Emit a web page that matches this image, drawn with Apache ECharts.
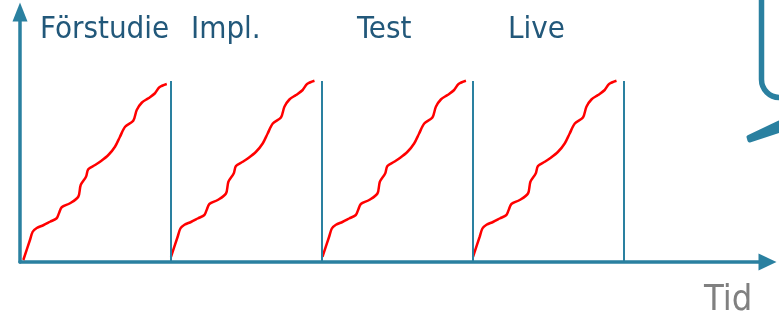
<!DOCTYPE html>
<html>
<head>
<meta charset="utf-8">
<script src="https://cdn.jsdelivr.net/npm/echarts@6/dist/echarts.min.js"></script>
<style>html,body{margin:0;padding:0;background:#fff}#c{width:779px;height:318px}</style>
</head>
<body>
<div id="c"></div>
<script>
// Phase names and their divider positions (phase units along time axis)
var phaseNames = ['Förstudie', 'Impl.', 'Test', 'Live'];
var dividerX = [1, 2, 3, 4];
var dividerTop = 72.4;
// Start point of each phase's curve [x, y]
var curveStartX = [0.022, 1.0, 2.003, 3.0];
var curveStartY = [0.8, 2.1, 2.1, 2.1];
// Shape of the progress curve, relative to its start (x in phase units, y in axis units)
var shapeDX = [0, 0.044, 0.062, 0.089, 0.132, 0.177, 0.221, 0.236, 0.254, 0.309, 0.364, 0.380, 0.415, 0.430, 0.475, 0.508, 0.563, 0.607, 0.640, 0.674, 0.728, 0.751, 0.784, 0.828, 0.872, 0.901, 0.950];
var shapeDY = [0, 8.0, 11.3, 12.8, 13.9, 15.3, 16.7, 18.7, 21.1, 22.7, 25.3, 30.0, 33.3, 36.3, 38.0, 39.3, 42.0, 45.3, 49.3, 53.3, 55.7, 60.0, 62.9, 64.7, 66.7, 69.1, 70.4];
var axisTitle = 'Tid';

var AX = '#2a80a0';
var LBL = '#22587a';

var series = [];
for (var p = 0; p < phaseNames.length; p++) {
  var pts = [];
  for (var i = 0; i < shapeDX.length; i++) {
    pts.push([curveStartX[p] + shapeDX[i], curveStartY[p] + shapeDY[i]]);
  }
  series.push({
    type: 'line', data: pts, smooth: 0.3, symbol: 'none',
    lineStyle: { color: '#ff0000', width: 2.5 }, silent: true, z: 3
  });
}
series.push({
  type: 'line', data: [], silent: true,
  markLine: {
    silent: true, symbol: ['none', 'none'], label: { show: false },
    lineStyle: { color: AX, width: 2, type: 'solid' },
    data: dividerX.map(function (x) { return [{ coord: [x, 0] }, { coord: [x, dividerTop] }]; })
  }
});

var labelLeft = [40, 191, 357, 508];
var graphics = phaseNames.map(function (n, i) {
  return { type: 'text', left: labelLeft[i], top: 14, style: { text: n, fill: LBL, font: '31px "DejaVu Sans Condensed", "DejaVu Sans", sans-serif' } };
});
graphics.push({ type: 'text', left: 704, top: 283, style: { text: axisTitle, fill: '#808080', font: '36px "DejaVu Sans Condensed", "DejaVu Sans", sans-serif' } });
graphics.push({ type: 'rect', shape: { x: 761.5, y: -40, width: 80, height: 137.5, r: 18 }, style: { fill: 'none', stroke: AX, lineWidth: 5.5 } });
graphics.push({ type: 'polygon', shape: { points: [[748.5, 137], [779, 122.5], [779, 131], [749.5, 140.5]] }, style: { fill: AX, stroke: AX, lineWidth: 4, lineJoin: 'round' } });

var chart = echarts.init(document.getElementById('c'), null, { renderer: 'canvas' });
chart.setOption({
  animation: false,
  grid: { left: 20, right: 11.5, top: 12, bottom: 56 },
  xAxis: {
    type: 'value', min: 0, max: 4.95,
    axisLine: { show: true, onZero: false, lineStyle: { color: AX, width: 3.5 }, symbol: ['none', 'triangle'], symbolSize: [17, 18] },
    axisTick: { show: false }, axisLabel: { show: false }, splitLine: { show: false }
  },
  yAxis: {
    type: 'value', min: 0, max: 100,
    axisLine: { show: true, onZero: false, lineStyle: { color: AX, width: 3.5 }, symbol: ['none', 'triangle'], symbolSize: [15, 19] },
    axisTick: { show: false }, axisLabel: { show: false }, splitLine: { show: false }
  },
  graphic: graphics,
  series: series
});
</script>
</body>
</html>
